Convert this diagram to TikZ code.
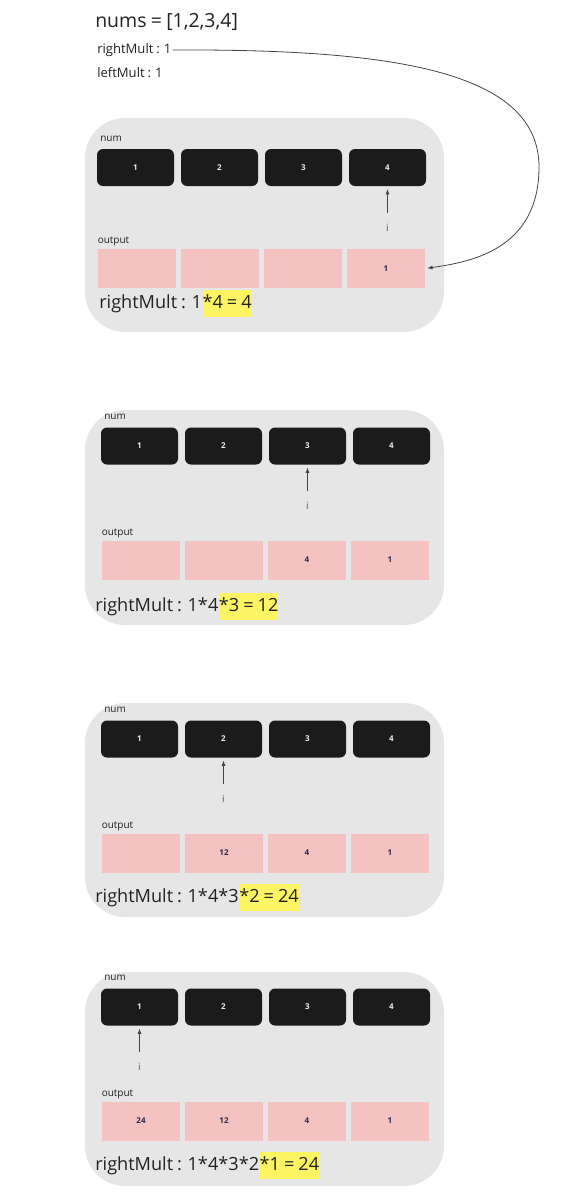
\documentclass[tikz,border=0pt]{standalone}
\usepackage{fontspec}
\setmainfont[WordSpace=0.85]{Open Sans}
\usetikzlibrary{arrows.meta,positioning}
\tikzset{>={Latex[width=3pt,length=4pt]}}
\definecolor{panelgray}{HTML}{E6E6E6}
\definecolor{cellblack}{HTML}{1B1B1B}
\definecolor{cellpink}{HTML}{F4C2C0}
\definecolor{hlyellow}{HTML}{FCF462}
\definecolor{idxblue}{HTML}{2F5F94}
\definecolor{navy}{HTML}{2B2A4C}
\definecolor{ink}{HTML}{222222}
\definecolor{wire}{HTML}{444444}

\tikzset{
  panel/.style={fill=panelgray, rounded corners=30pt},
  numcell/.style={fill=cellblack, rounded corners=4.5pt, minimum width=57.75pt,
    minimum height=27.75pt, text=white!92!black, font=\bfseries\fontsize{6}{7}\selectfont},
  outcell/.style={fill=cellpink, minimum width=58.5pt, minimum height=29.25pt,
    text=navy, font=\bfseries\fontsize{6}{7}\selectfont},
  smalllabel/.style={anchor=west, inner sep=0pt, text=ink, font=\fontsize{7.5}{9}\selectfont},
  toplabel/.style={anchor=west, inner sep=0pt, text=ink, font=\fontsize{9.8}{11}\selectfont},
  idx/.style={inner sep=0pt, text=idxblue, font=\fontsize{7.5}{9}\selectfont},
  multtext/.style={anchor=base west, inner xsep=0pt, inner ysep=3.5pt, text=ink,
    text height=10pt, text depth=3.5pt, font=\fontsize{13.6}{16}\selectfont},
  hl/.style={multtext, fill=hlyellow},
  ptr/.style={->, draw=wire, line width=0.75pt, shorten <=8pt, shorten >=2pt}
}

\begin{document}
\begin{tikzpicture}[x=0.75pt, y=-0.75pt]
  \useasboundingbox (0,0) rectangle (563,1197);

  %% start values
  \node[anchor=west, inner sep=0pt, text=ink, font=\fontsize{14.6}{17}\selectfont]
    (nums) at (95,22) {nums = [1,2,3,4]};
  \node[toplabel] (rmtop) at (97,50) {rightMult : 1};
  \node[toplabel] (lmtop) at (97,73) {leftMult : 1};

  %% one panel per step: top/bottom/num row/output row/text/x of first cell/i/outputs
  \foreach \k/\top/\bot/\B/\P/\T/\bx/\tx/\ptr/\oa/\ob/\oc/\od/\pre/\hi in {
      1/118/332/167.5/268.5/308/135.5/99/4/{}/{}/{}/1/{1}/{*4 = 4},
      2/410/625/446/560/611/139.5/95/3/{}/{}/4/1/{1*4}/{*3 = 12},
      3/703/917/739/853/902/139.5/95/2/{}/12/4/1/{1*4*3}/{*2 = 24},
      4/972/1186/1007/1121/1170/139.5/95/1/24/12/4/1/{1*4*3*2}/{*1 = 24}} {
    \fill[panel] (85,\top) rectangle (444,\bot);

    \foreach \j in {1,...,4}
      \node[numcell] (n\k-\j) at ({\bx+84*(\j-1)},\B) {\j};
    \node[outcell] (o\k-1) at ({\bx+1.5},\P) {\oa};
    \node[outcell] (o\k-2) at ({\bx+84.5},\P) {\ob};
    \node[outcell] (o\k-3) at ({\bx+167.5},\P) {\oc};
    \node[outcell] (o\k-4) at ({\bx+250.5},\P) {\od};

    \node[smalllabel] (numlbl\k) at ({\bx-35.5},{\B-29}) {num};
    \node[smalllabel] (outlbl\k) at ({\bx-38},{\P-27}) {output};

    \node[idx] (i\k) at ({\bx+84*(\ptr-1)},{\B+60}) {i};
    \draw[ptr] (i\k.north) -- (n\k-\ptr.south);

    \node[multtext] (rm\k) at (\tx,\T) {rightMult : \pre};
    \node[hl] (hl\k) at (rm\k.base east) {\hi};
  }

  \coordinate (bend) at (539,167);
  \draw[->, draw=wire, line width=0.6pt, shorten <=1pt, shorten >=1.5pt]
    (rmtop.east) .. controls (390,49) and (539,70) .. (bend)
    .. controls (539,250) and (470,262) .. (o1-4.east);

\end{tikzpicture}
\end{document}
